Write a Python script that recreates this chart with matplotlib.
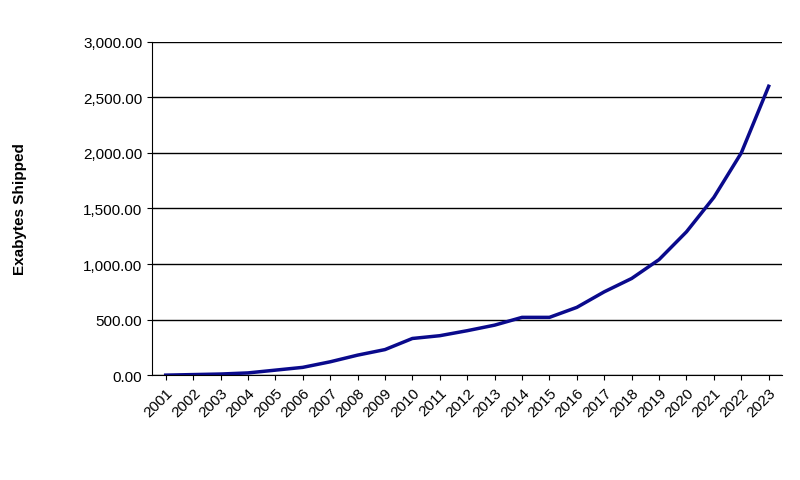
import matplotlib
matplotlib.use("Agg")
import matplotlib.pyplot as plt
from matplotlib.ticker import FuncFormatter

plt.rcParams["font.family"] = ["Liberation Sans", "DejaVu Sans"]

years = [str(y) for y in range(2001, 2024)]
exabytes = [0, 5, 10, 20, 45, 70, 120, 180, 230, 330, 355, 400, 450, 520, 520,
            610, 750, 870, 1040, 1290, 1600, 2000, 2600]

fig = plt.figure(figsize=(8.0, 4.81), dpi=100)
ax = fig.add_axes([0.19, 0.218, 0.788, 0.693])
x = range(len(years))
ax.plot(x, exabytes, color="#0a0a8c", lw=2.5, solid_joinstyle="round")
ax.set_xlim(-0.5, len(years) - 0.5)
ax.set_ylim(0, 3000)
ax.set_yticks(range(0, 3001, 500))
ax.yaxis.set_major_formatter(FuncFormatter(lambda v, p: f"{v:,.2f}"))
ax.grid(axis="y", color="black", lw=1)
ax.set_axisbelow(True)
ax.set_xticks(list(x))
ax.set_xticklabels(years, rotation=45, ha="right", rotation_mode="anchor", fontsize=11)
ax.tick_params(axis="y", labelsize=11)
for sp in ax.spines.values():
    sp.set_color("black")
ax.spines["top"].set_visible(False)
ax.spines["right"].set_visible(False)
ax.set_ylabel("Exabytes Shipped", fontsize=11, fontweight="bold", labelpad=40)
fig.savefig("out.png", dpi=100)
